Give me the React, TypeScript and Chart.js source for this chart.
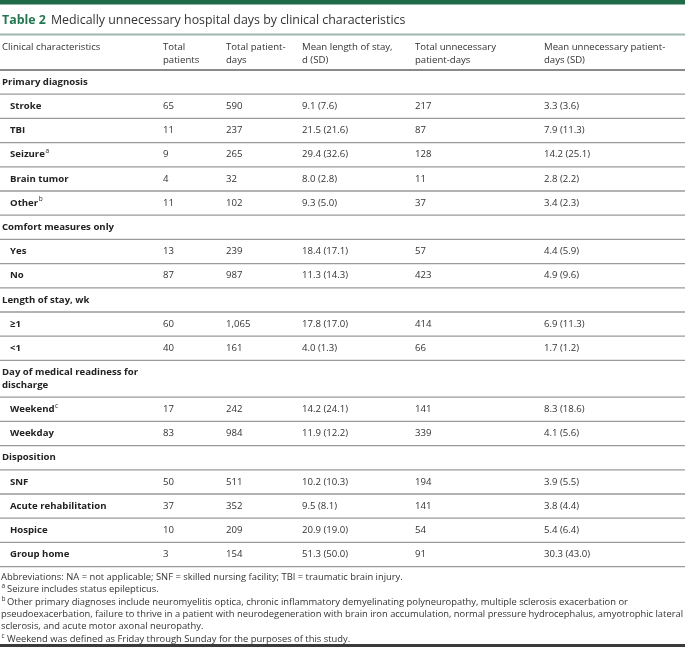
import React, { useEffect, useRef } from "react";
import { Chart, registerables } from "chart.js";

Chart.register(...registerables);

const W = 685;
const H = 647;

// ---------- content ----------
const titleLabel = "Table 2";
const titleText = "Medically unnecessary hospital days by clinical characteristics";

const headerLabels: string[][] = [
  ["Clinical characteristics"],
  ["Total", "patients"],
  ["Total patient-", "days"],
  ["Mean length of stay,", "d (SD)"],
  ["Total unnecessary", "patient-days"],
  ["Mean unnecessary patient-", "days (SD)"],
];

const groupNames = [
  "Primary diagnosis",
  "Comfort measures only",
  "Length of stay, wk",
  "Day of medical readiness for discharge",
  "Disposition",
];
const groupSizes = [5, 2, 2, 2, 4];

const categories = [
  "Stroke", "TBI", "Seizure", "Brain tumor", "Other",
  "Yes", "No",
  "≥1", "<1",
  "Weekend", "Weekday",
  "SNF", "Acute rehabilitation", "Hospice", "Group home",
];
const categoryNotes = ["", "", "a", "", "b", "", "", "", "", "c", "", "", "", "", ""];

const totalPatients = [65, 11, 9, 4, 11, 13, 87, 60, 40, 17, 83, 50, 37, 10, 3];
const totalPatientDays = [590, 237, 265, 32, 102, 239, 987, 1065, 161, 242, 984, 511, 352, 209, 154];
const meanStay = [
  "9.1 (7.6)", "21.5 (21.6)", "29.4 (32.6)", "8.0 (2.8)", "9.3 (5.0)",
  "18.4 (17.1)", "11.3 (14.3)",
  "17.8 (17.0)", "4.0 (1.3)",
  "14.2 (24.1)", "11.9 (12.2)",
  "10.2 (10.3)", "9.5 (8.1)", "20.9 (19.0)", "51.3 (50.0)",
];
const totalUnnecessary = [217, 87, 128, 11, 37, 57, 423, 414, 66, 141, 339, 194, 141, 54, 91];
const meanUnnecessary = [
  "3.3 (3.6)", "7.9 (11.3)", "14.2 (25.1)", "2.8 (2.2)", "3.4 (2.3)",
  "4.4 (5.9)", "4.9 (9.6)",
  "6.9 (11.3)", "1.7 (1.2)",
  "8.3 (18.6)", "4.1 (5.6)",
  "3.9 (5.5)", "3.8 (4.4)", "5.4 (6.4)", "30.3 (43.0)",
];

const footnoteMarks = ["", "a", "b", "", "", "c"];
const footnoteLines = [
  "Abbreviations: NA = not applicable; SNF = skilled nursing facility; TBI = traumatic brain injury.",
  "Seizure includes status epilepticus.",
  "Other primary diagnoses include neuromyelitis optica, chronic inflammatory demyelinating polyneuropathy, multiple sclerosis exacerbation or",
  "pseudoexacerbation, failure to thrive in a patient with neurodegeneration with brain iron accumulation, normal pressure hydrocephalus, amyotrophic lateral",
  "sclerosis, and acute motor axonal neuropathy.",
  "Weekend was defined as Friday through Sunday for the purposes of this study.",
];

// ---------- layout / style ----------
const FONT = "'Open Sans', 'Noto Sans', sans-serif";
const BODY_PX = 9.6;
const TITLE_PX = 12.4;
const FOOT_PX = 9.4;
const colX = [2, 163, 226, 302, 415, 544];
const indentX = 10;
const headerLineY = [47, 60.5];
const titleRuleY = 34.5;
const headerRuleY = 70;
const rowH = 24.2;
const extraLineH = 12.6;
const footStartY = 577;
const footLineH = 12.45;

const GREEN_BAR = "#1f6b48";
const GREEN_TITLE = "#23774f";
const TEXT = "#333333";
const LABEL = "#222222";

type Cell = {
  x: number;
  y: number;
  lines: string[];
  font: string;
  color: string;
  note?: string;
  lineGap?: number;
  maxWidth?: number;
};

function wrap(ctx: CanvasRenderingContext2D, text: string, font: string, maxW: number): string[] {
  ctx.font = font;
  const words = text.split(" ");
  const out: string[] = [];
  let cur = "";
  for (const w of words) {
    const t = cur ? cur + " " + w : w;
    if (cur && ctx.measureText(t).width > maxW) {
      out.push(cur);
      cur = w;
    } else cur = t;
  }
  if (cur) out.push(cur);
  return out;
}

function buildLayout() {
  const meas = document.createElement("canvas").getContext("2d")!;
  const bold = `bold ${BODY_PX}px ${FONT}`;
  const reg = `${BODY_PX}px ${FONT}`;
  const cells: Cell[] = [];
  const rules: { y: number; color: string; width: number }[] = [];

  // header
  headerLabels.forEach((lines, c) => {
    cells.push({ x: colX[c], y: headerLineY[0], lines, font: reg, color: TEXT, lineGap: headerLineY[1] - headerLineY[0] });
  });

  let y = headerRuleY;
  let idx = 0;
  groupNames.forEach((g, gi) => {
    const lines = wrap(meas, g, bold, 150);
    const h = rowH + (lines.length - 1) * extraLineH;
    const cy = y + h / 2 - ((lines.length - 1) * extraLineH) / 2;
    cells.push({ x: colX[0], y: cy, lines, font: bold, color: LABEL, lineGap: extraLineH });
    y += h;
    rules.push({ y, color: "#9a9a9a", width: 1.3 });
    for (let k = 0; k < groupSizes[gi]; k++) {
      const cyr = y + rowH / 2;
      cells.push({ x: indentX, y: cyr, lines: [categories[idx]], font: bold, color: LABEL, note: categoryNotes[idx] });
      cells.push({ x: colX[1], y: cyr, lines: [String(totalPatients[idx])], font: reg, color: TEXT });
      cells.push({ x: colX[2], y: cyr, lines: [totalPatientDays[idx].toLocaleString("en-US")], font: reg, color: TEXT });
      cells.push({ x: colX[3], y: cyr, lines: [meanStay[idx]], font: reg, color: TEXT });
      cells.push({ x: colX[4], y: cyr, lines: [String(totalUnnecessary[idx])], font: reg, color: TEXT });
      cells.push({ x: colX[5], y: cyr, lines: [meanUnnecessary[idx]], font: reg, color: TEXT });
      y += rowH;
      rules.push({ y, color: "#9a9a9a", width: 1.3 });
      idx++;
    }
  });

  footnoteLines.forEach((t, i) => {
    const mark = footnoteMarks[i];
    cells.push({
      x: mark ? 7 : 1,
      y: footStartY + i * footLineH,
      lines: [t],
      font: `${FOOT_PX}px ${FONT}`,
      color: TEXT,
      maxWidth: 683 - (mark ? 7 : 1),
    });
  });

  return { cells, rules };
}

export default function App() {
  const ref = useRef<HTMLCanvasElement | null>(null);

  useEffect(() => {
    document.body.style.margin = "0";
    const canvas = ref.current!;
    const { cells, rules } = buildLayout();

    const tablePlugin = {
      id: "tablePlugin",
      beforeDraw(chart: any) {
        const { ctx, scales } = chart;
        const sx = scales.x;
        const sy = scales.y;
        const px = (v: number) => sx.getPixelForValue(v);
        const py = (v: number) => sy.getPixelForValue(v);
        ctx.save();
        ctx.fillStyle = "#ffffff";
        ctx.fillRect(px(0), py(0), px(W) - px(0), py(H) - py(0));
        // top green bar
        ctx.fillStyle = GREEN_BAR;
        ctx.fillRect(px(0), py(0), px(W) - px(0), py(4.5) - py(0));
        // title
        ctx.textBaseline = "middle";
        ctx.font = `bold ${TITLE_PX}px ${FONT}`;
        ctx.fillStyle = GREEN_TITLE;
        ctx.fillText(titleLabel, px(2), py(20));
        const tw = ctx.measureText(titleLabel).width;
        ctx.font = `${TITLE_PX}px ${FONT}`;
        ctx.fillStyle = TEXT;
        ctx.fillText(titleText, px(2) + tw + 5, py(20));
        // title rule
        ctx.strokeStyle = "#9fb8ad";
        ctx.lineWidth = 2;
        ctx.beginPath();
        ctx.moveTo(px(0), py(titleRuleY));
        ctx.lineTo(px(W), py(titleRuleY));
        ctx.stroke();
        // header rule
        ctx.strokeStyle = "#8a8a8a";
        ctx.lineWidth = 2.2;
        ctx.beginPath();
        ctx.moveTo(px(0), py(headerRuleY));
        ctx.lineTo(px(W), py(headerRuleY));
        ctx.stroke();
        // row rules
        rules.forEach((r) => {
          ctx.strokeStyle = r.color;
          ctx.lineWidth = r.width;
          ctx.beginPath();
          ctx.moveTo(px(0), py(r.y));
          ctx.lineTo(px(W), py(r.y));
          ctx.stroke();
        });
        // bottom rule
        ctx.fillStyle = "#3a3a3a";
        ctx.fillRect(px(0), py(644), px(W) - px(0), py(H) - py(644));
        ctx.restore();
      },
      afterDatasetsDraw(chart: any) {
        const { ctx } = chart;
        const meta = chart.getDatasetMeta(0);
        ctx.save();
        ctx.textBaseline = "middle";
        ctx.textAlign = "left";
        meta.data.forEach((el: any, i: number) => {
          const c = cells[i];
          ctx.font = c.font;
          ctx.fillStyle = c.color;
          c.lines.forEach((ln, k) => {
            const yy = el.y + k * (c.lineGap || 0);
            if (c.maxWidth) ctx.fillText(ln, el.x, yy, c.maxWidth);
            else ctx.fillText(ln, el.x, yy);
            if (c.note && k === c.lines.length - 1) {
              const w = ctx.measureText(ln).width;
              ctx.font = `6.5px ${FONT}`;
              ctx.fillText(c.note, el.x + w + 0.5, yy - 3.5);
              ctx.font = c.font;
            }
          });
        });
        // footnote marks
        const sx = chart.scales.x;
        const sy = chart.scales.y;
        ctx.font = `6.5px ${FONT}`;
        ctx.fillStyle = TEXT;
        footnoteMarks.forEach((m, i) => {
          if (!m) return;
          ctx.fillText(m, sx.getPixelForValue(1.5), sy.getPixelForValue(footStartY + i * footLineH - 3));
        });
        ctx.restore();
      },
    };

    const chart = new Chart(canvas, {
      type: "scatter",
      data: {
        datasets: [
          {
            data: cells.map((c) => ({ x: c.x, y: c.y })),
            pointRadius: 0,
            pointHoverRadius: 0,
            showLine: false,
          },
        ],
      },
      options: {
        animation: false,
        responsive: false,
        events: [],
        layout: { padding: 0 },
        scales: {
          x: { type: "linear", min: 0, max: W, display: false },
          y: { type: "linear", min: 0, max: H, reverse: true, display: false },
        },
        plugins: { legend: { display: false }, tooltip: { enabled: false } },
      },
      plugins: [tablePlugin],
    });
    return () => chart.destroy();
  }, []);

  return (
    <div style={{ width: W, height: H }}>
      <canvas ref={ref} width={W} height={H} style={{ display: "block", width: W, height: H }} />
    </div>
  );
}
